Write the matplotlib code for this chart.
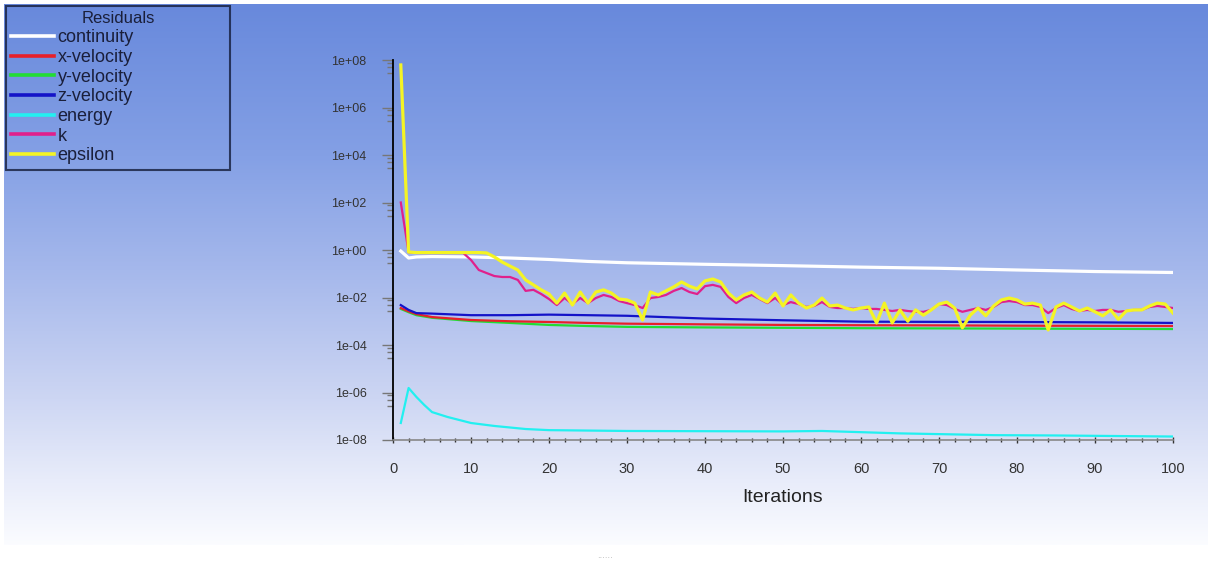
import numpy as np
import matplotlib
matplotlib.use('Agg')
from matplotlib import pyplot as plt
from matplotlib.colors import LinearSegmentedColormap

# ---- data ----
iters = np.arange(1, 101)

eps = [6.2e7, 0.82, 0.78, 0.78, 0.78, 0.78, 0.78, 0.78, 0.78, 0.78,
       0.78, 0.75, 0.51, 0.31, 0.21, 0.144, 0.055, 0.034, 0.021, 0.014,
       0.0058, 0.0154, 0.0048, 0.017, 0.0058, 0.017, 0.021, 0.0154, 0.0086, 0.0079,
       0.0058, 0.00113, 0.017, 0.0128, 0.019, 0.028, 0.045, 0.030, 0.023, 0.050,
       0.060, 0.045, 0.0154, 0.0079, 0.0128, 0.017, 0.0095, 0.0064, 0.0154, 0.0044,
       0.0128, 0.0058, 0.0036, 0.0048, 0.0095, 0.0044, 0.0048, 0.0036, 0.0030, 0.0036,
       0.0040, 0.00085, 0.0058, 0.00085, 0.0030, 0.0010, 0.0030, 0.0018, 0.0030, 0.0053,
       0.0064, 0.0036, 0.00053, 0.0018, 0.0036, 0.0017, 0.0044, 0.0079, 0.0095, 0.0079,
       0.0053, 0.0058, 0.0048, 0.00043, 0.0040, 0.0058, 0.0040, 0.0027, 0.0036, 0.0025,
       0.0017, 0.0030, 0.0012, 0.0027, 0.0030, 0.0030, 0.0044, 0.0058, 0.0053, 0.0022]

k = [100.0, 0.80, 0.75, 0.75, 0.75, 0.75, 0.75, 0.75, 0.75, 0.38,
     0.144, 0.107, 0.080, 0.073, 0.073, 0.055, 0.019, 0.021, 0.014, 0.0086,
     0.0048, 0.0095, 0.0053, 0.0095, 0.0058, 0.0095, 0.0128, 0.0105, 0.0071, 0.0058,
     0.0048, 0.0036, 0.0095, 0.0105, 0.0128, 0.019, 0.025, 0.017, 0.014, 0.030,
     0.034, 0.028, 0.0105, 0.0058, 0.0095, 0.0128, 0.0086, 0.0058, 0.0095, 0.0048,
     0.0064, 0.0053, 0.0040, 0.0044, 0.0064, 0.0040, 0.0036, 0.0036, 0.0033, 0.0036,
     0.0033, 0.0033, 0.0030, 0.0027, 0.0030, 0.0027, 0.0025, 0.0025, 0.0030, 0.0053,
     0.0048, 0.0033, 0.0025, 0.0030, 0.0036, 0.0030, 0.0040, 0.0064, 0.0071, 0.0064,
     0.0048, 0.0048, 0.0040, 0.0022, 0.0036, 0.0048, 0.0033, 0.0027, 0.0030, 0.0027,
     0.0030, 0.0030, 0.0025, 0.0027, 0.0030, 0.0030, 0.0040, 0.0044, 0.0040, 0.0036]

# smooth residuals, read at a few iterations
cont_it = [1, 2, 3, 5, 10, 15, 20, 25, 30, 40, 50, 60, 70, 80, 90, 100]
cont = [0.9, 0.46, 0.51, 0.53, 0.51, 0.46, 0.40, 0.33, 0.29, 0.25, 0.22, 0.19, 0.17, 0.144, 0.124, 0.113]

vel_it = [1, 2, 3, 5, 10, 15, 20, 25, 30, 40, 50, 60, 70, 80, 90, 100]
xvel = [0.0036, 0.0026, 0.0020, 0.0015, 0.00113, 0.0010, 0.00093, 0.00085, 0.00079, 0.00074,
        0.00070, 0.00068, 0.00067, 0.00065, 0.00064, 0.00063]
yvel = [0.0033, 0.0024, 0.0018, 0.0014, 0.00102, 0.00085, 0.00070, 0.00063, 0.00058, 0.00055,
        0.00053, 0.00051, 0.00050, 0.00049, 0.00048, 0.00047]
zvel = [0.0048, 0.0030, 0.0022, 0.0021, 0.0018, 0.0018, 0.0019, 0.0018, 0.0017, 0.0013,
        0.0011, 0.00096, 0.00094, 0.00093, 0.00090, 0.00085]

en_it = [1, 2, 3, 4, 5, 7, 10, 13, 17, 20, 30, 50, 55, 65, 77, 85, 100]
energy = [5.2e-8, 1.55e-6, 6.5e-7, 3.0e-7, 1.5e-7, 9.3e-8, 5.2e-8, 3.9e-8, 2.9e-8, 2.6e-8,
          2.4e-8, 2.3e-8, 2.4e-8, 1.9e-8, 1.6e-8, 1.55e-8, 1.4e-8]

names = ['continuity', 'x-velocity', 'y-velocity', 'z-velocity', 'energy', 'k', 'epsilon']
colors = ['#ffffff', '#e8202a', '#22dd33', '#1414c8', '#22f0f0', '#e0208c', '#f4f424']

ytick_vals = [1e-8, 1e-6, 1e-4, 1e-2, 1e0, 1e2, 1e4, 1e6, 1e8]
ytick_labels = ['1e-08', '1e-06', '1e-04', '1e-02', '1e+00', '1e+02', '1e+04', '1e+06', '1e+08']


def main():
	W, H = 1208, 563
	fig = plt.figure(figsize=(W / 100, H / 100), dpi=100)
	fig.patch.set_facecolor('white')

	# gradient background
	bg = fig.add_axes([0, 0, 1, 1], zorder=-10)
	bg.set_xlim(0, W)
	bg.set_ylim(H, 0)
	bg.axis('off')
	cmap = LinearSegmentedColormap.from_list('fl', [
		(0.0, (104/255, 137/255, 220/255)),
		(0.28, (132/255, 160/255, 229/255)),
		(0.51, (168/255, 186/255, 236/255)),
		(0.73, (205/255, 214/255, 243/255)),
		(0.88, (232/255, 236/255, 250/255)),
		(1.0, (251/255, 252/255, 255/255))])
	grad = np.linspace(0, 1, 256).reshape(-1, 1)
	bg.imshow(grad, cmap=cmap, aspect='auto', extent=(4, W, 545, 4))

	ax = fig.add_axes([393 / W, 1 - 440 / H, 780 / W, 380 / H])
	ax.patch.set_alpha(0)

	ax.plot(cont_it, cont, color=colors[0], lw=2.3, label=names[0], zorder=3)
	ax.plot(vel_it, xvel, color=colors[1], lw=1.6, label=names[1], zorder=3)
	ax.plot(vel_it, yvel, color=colors[2], lw=1.6, label=names[2], zorder=2)
	ax.plot(vel_it, zvel, color=colors[3], lw=1.6, label=names[3], zorder=3)
	ax.plot(en_it, energy, color=colors[4], lw=1.6, label=names[4], zorder=3)
	ax.plot(iters, k, color=colors[5], lw=1.6, label=names[5], zorder=4)
	ax.plot(iters, eps, color=colors[6], lw=2.3, label=names[6], zorder=5)

	ax.set_yscale('log')
	ax.set_ylim(1e-8, 1e8)
	ax.set_xlim(0, 100)

	for s in ['top', 'right']:
		ax.spines[s].set_visible(False)
	ax.spines['left'].set_color('black')
	ax.spines['left'].set_linewidth(1.3)
	ax.spines['bottom'].set_color('#888888')
	ax.spines['bottom'].set_linewidth(1.2)

	tick_font = ['Liberation Sans Narrow', 'Liberation Sans', 'DejaVu Sans']
	ax.set_yticks(ytick_vals)
	ax.set_yticklabels(ytick_labels, family=tick_font, fontsize=9, color='#333333')
	minors = []
	for v in ytick_vals:
		minors += [v * 0.75, v * 0.5, v * 0.28]
	ax.set_yticks([m for m in minors if m > 1e-8], minor=True)
	ax.tick_params(axis='y', which='major', length=8, width=1, color='#777777', pad=11)
	ax.tick_params(axis='y', which='minor', length=4, width=1, color='#777777')

	ax.set_xticks(range(0, 101, 10))
	ax.set_xticklabels([str(v) for v in range(0, 101, 10)], family=tick_font, fontsize=10.5, color='#333333')
	ax.set_xticks(range(0, 101, 2), minor=True)
	ax.tick_params(axis='x', which='major', length=5, width=1, color='#333333', direction='inout', pad=13)
	ax.tick_params(axis='x', which='minor', length=3, width=1, color='#333333', direction='inout')

	ax.set_xlabel('Iterations', family=['Liberation Sans', 'DejaVu Sans'], fontsize=14, color='#222222', labelpad=10)

	leg = fig.legend(loc='upper left', bbox_to_anchor=(6 / W, 1 - 174 / H, 224 / W, 168 / H),
		mode='expand', borderaxespad=0,
		title='Residuals', frameon=True, fancybox=False, edgecolor='#141c3a',
		facecolor='none', prop={'family': 'Liberation Sans', 'size': 13},
		handlelength=2.35, handletextpad=0.2, labelspacing=0.15, borderpad=0.3)
	leg.get_title().set_fontfamily('Liberation Sans')
	leg.get_title().set_fontsize(12)
	leg.get_frame().set_linewidth(1.5)
	for t in leg.get_texts():
		t.set_color('#1a1f3a')
	leg.get_title().set_color('#1a1f3a')
	for ln in leg.get_lines():
		ln.set_linewidth(2.6)

	fig.text(605 / W, 1 - 556 / H, '......', fontsize=6, color='#aaaaaa', ha='center', va='center')

	fig.savefig('out.png', dpi=100)


if __name__ == "__main__":
	main()
